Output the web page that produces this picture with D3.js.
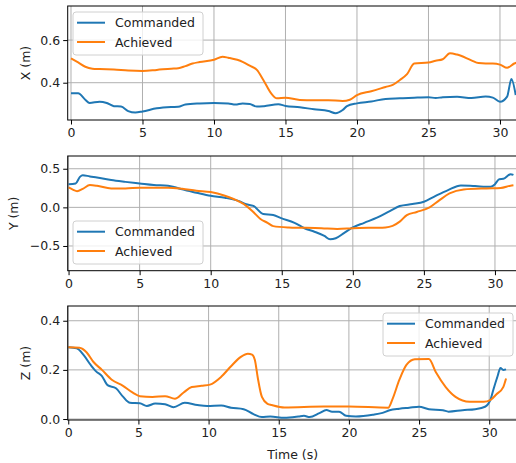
<!DOCTYPE html>
<html>
<head>
<meta charset="utf-8">
<script src="https://cdn.jsdelivr.net/npm/d3@7"></script>
<style>
  body { margin: 0; background: #fff; }
  svg { display: block; font-family: "DejaVu Sans", sans-serif; }
</style>
</head>
<body>
<svg id="chart"></svg>
<script>
// ---- data ----
let seriesNames = ["Commanded", "Achieved"]
let xTicks = [0, 5, 10, 15, 20, 25, 30]

let tXCmd = [0, 0.5, 1, 1.3, 2, 2.5, 3, 3.5, 4, 4.5, 5, 6, 7, 7.5, 8, 9, 10, 11, 11.5, 12, 12.5, 13, 13.5, 14.5, 15, 16, 17, 18, 18.5, 19, 19.3, 20, 21, 22, 23, 24, 25, 25.5, 26, 27, 28, 29, 29.5, 30, 30.5, 30.8, 31.1]
let xCmd = [0.35, 0.35, 0.32, 0.305, 0.311, 0.305, 0.29, 0.288, 0.267, 0.26, 0.265, 0.28, 0.286, 0.287, 0.298, 0.303, 0.305, 0.303, 0.298, 0.303, 0.30, 0.288, 0.29, 0.299, 0.291, 0.285, 0.275, 0.267, 0.257, 0.272, 0.29, 0.303, 0.312, 0.324, 0.327, 0.33, 0.332, 0.328, 0.332, 0.334, 0.328, 0.335, 0.33, 0.311, 0.335, 0.417, 0.342]
let tXAch = [0, 0.5, 1, 1.5, 2, 3, 4, 5, 6, 7, 7.5, 8, 8.5, 9, 10, 10.6, 11, 12, 12.5, 13, 13.45, 14, 14.4, 15, 16, 17, 18, 19, 19.5, 20, 21, 22, 22.5, 23, 23.5, 24, 25, 25.5, 26, 26.5, 27, 28, 28.5, 29, 29.5, 30, 30.5, 31, 31.2]
let xAch = [0.514, 0.495, 0.475, 0.466, 0.464, 0.462, 0.457, 0.455, 0.46, 0.466, 0.468, 0.478, 0.49, 0.497, 0.508, 0.522, 0.517, 0.498, 0.48, 0.46, 0.413, 0.35, 0.327, 0.33, 0.319, 0.318, 0.318, 0.314, 0.32, 0.342, 0.36, 0.38, 0.39, 0.413, 0.44, 0.49, 0.495, 0.503, 0.51, 0.538, 0.532, 0.505, 0.492, 0.49, 0.49, 0.485, 0.47, 0.49, 0.495]

let tYCmd = [0, 0.5, 0.8, 1, 1.5, 2, 3, 4, 5, 6, 7, 7.5, 8, 9, 10, 11, 12, 12.5, 13, 13.7, 14.4, 15, 15.9, 16.6, 17.3, 18, 18.4, 18.8, 19.4, 19.9, 20.8, 21.7, 22.6, 23.3, 24.2, 25, 25.7, 26.7, 27.6, 28.6, 29.7, 30, 30.3, 30.6, 31.1, 31.3]
let yCmd = [0.30, 0.31, 0.395, 0.417, 0.40, 0.387, 0.353, 0.33, 0.31, 0.29, 0.28, 0.26, 0.233, 0.19, 0.15, 0.124, 0.08, 0.04, 0.02, -0.087, -0.1, -0.142, -0.2, -0.27, -0.315, -0.37, -0.414, -0.4, -0.33, -0.27, -0.2, -0.134, -0.048, 0.017, 0.043, 0.073, 0.137, 0.224, 0.284, 0.275, 0.266, 0.3, 0.365, 0.37, 0.43, 0.42]
let tYAch = [0, 0.3, 0.6, 1, 1.5, 2, 3, 4, 5, 6, 7, 8, 9, 10, 11, 12, 12.5, 13, 13.5, 14, 14.4, 15.5, 17.8, 18.9, 20, 22.3, 22.8, 23.3, 23.8, 24.5, 25.4, 26.1, 26.8, 27.8, 29.4, 30.4, 31.1, 31.3]
let yAch = [0.258, 0.23, 0.21, 0.24, 0.288, 0.28, 0.245, 0.245, 0.255, 0.255, 0.255, 0.24, 0.215, 0.198, 0.15, 0.075, 0.02, -0.06, -0.15, -0.2, -0.243, -0.26, -0.27, -0.28, -0.27, -0.26, -0.24, -0.185, -0.1, -0.06, 0.0, 0.094, 0.18, 0.232, 0.245, 0.25, 0.28, 0.285]

let tZCmd = [0, 0.6, 1.1, 1.6, 2, 2.4, 2.8, 3.4, 3.9, 4.4, 5.1, 5.6, 6.2, 6.9, 7.5, 8.3, 9.2, 9.9, 10.9, 11.6, 12.5, 13.2, 13.8, 14.4, 15.4, 16.4, 16.8, 17.2, 17.9, 18.4, 18.8, 19.3, 19.8, 20.5, 21.7, 22.4, 22.9, 23.6, 24.3, 25, 25.7, 26.7, 27.1, 28.1, 29, 29.7, 30.1, 30.3, 30.6, 30.8, 31, 31.2]
let zCmd = [0.292, 0.288, 0.26, 0.22, 0.193, 0.175, 0.138, 0.125, 0.091, 0.066, 0.064, 0.053, 0.063, 0.06, 0.048, 0.066, 0.057, 0.053, 0.055, 0.046, 0.04, 0.02, 0.008, 0.01, 0.005, 0.01, 0.013, 0.008, 0.024, 0.037, 0.03, 0.03, 0.013, 0.01, 0.017, 0.025, 0.036, 0.042, 0.046, 0.05, 0.04, 0.036, 0.03, 0.036, 0.04, 0.05, 0.08, 0.12, 0.175, 0.208, 0.2, 0.202]
let tZAch = [0, 0.8, 1.3, 1.8, 2.4, 3.1, 3.9, 4.6, 5.1, 6, 6.9, 7.6, 8.2, 8.8, 9.5, 10.1, 10.9, 11.6, 12.3, 12.8, 13.1, 13.3, 13.5, 13.8, 14.2, 14.5, 15.4, 18.2, 20, 22.8, 23.1, 23.6, 24.1, 24.7, 25.7, 26.2, 26.9, 27.6, 28.6, 29.6, 30.1, 30.5, 31, 31.2]
let zAch = [0.292, 0.29, 0.272, 0.232, 0.2, 0.16, 0.135, 0.107, 0.093, 0.09, 0.093, 0.083, 0.107, 0.13, 0.135, 0.14, 0.172, 0.215, 0.253, 0.266, 0.262, 0.24, 0.17, 0.09, 0.062, 0.057, 0.047, 0.051, 0.051, 0.046, 0.08, 0.16, 0.22, 0.243, 0.244, 0.19, 0.13, 0.09, 0.07, 0.07, 0.078, 0.1, 0.13, 0.165]

let yTicksX = [0.4, 0.6]
let yTicksY = [-0.5, 0.0, 0.5]
let yTicksZ = [0.0, 0.2, 0.4]

// ---- layout ----
let width = 516
let height = 463
let colors = ["#1f77b4", "#ff7f0e"]
let fontSize = 12.5

let zip = (ts, vs) => ts.map((t, i) => [t, vs[i]])

let panels = [
  { label: "X (m)", top: 6, bottom: 120, xDom: [-0.23, 31.24], yDom: [0.225, 0.76], yTicks: yTicksX,
    labelX: 25, legend: { x: 73, y: 12 },
    series: [zip(tXCmd, xCmd), zip(tXAch, xAch)] },
  { label: "Y (m)", top: 156, bottom: 270.7, xDom: [-0.06, 31.6], yDom: [-0.82, 0.665], yTicks: yTicksY,
    labelX: 13.5, legend: { x: 73, y: 221 },
    series: [zip(tYCmd, yCmd), zip(tYAch, yAch)] },
  { label: "Z (m)", top: 306, bottom: 420, xDom: [-0.04, 32.03], yDom: [-0.004, 0.46], yTicks: yTicksZ,
    labelX: 25, legend: { x: 383, y: 313 },
    series: [zip(tZCmd, zCmd), zip(tZAch, zAch)] }
]
let left = 67.7
let right = 517.7

let svg = d3.select("#chart").attr("width", width).attr("height", height)

panels.forEach((p, pi) => {
  let xScale = d3.scaleLinear().domain(p.xDom).range([left, right])
  let yScale = d3.scaleLinear().domain(p.yDom).range([p.bottom, p.top])

  let g = svg.append("g")
  let clipId = "clip" + pi
  g.append("clipPath").attr("id", clipId)
    .append("rect").attr("x", left).attr("y", p.top).attr("width", right - left).attr("height", p.bottom - p.top)

  // grid
  g.selectAll(".gx").data(xTicks).enter().append("line")
    .attr("x1", d => xScale(d)).attr("x2", d => xScale(d))
    .attr("y1", p.top).attr("y2", p.bottom)
    .attr("stroke", "#b0b0b0").attr("stroke-width", 1)
  g.selectAll(".gy").data(p.yTicks).enter().append("line")
    .attr("x1", left).attr("x2", right)
    .attr("y1", d => yScale(d)).attr("y2", d => yScale(d))
    .attr("stroke", "#b0b0b0").attr("stroke-width", 1)

  // lines
  let line = d3.line().x(d => xScale(d[0])).y(d => yScale(d[1])).curve(d3.curveMonotoneX)
  p.series.forEach((s, si) => {
    g.append("path").datum(s)
      .attr("clip-path", "url(#" + clipId + ")")
      .attr("fill", "none")
      .attr("stroke", colors[si])
      .attr("stroke-width", 2)
      .attr("stroke-linejoin", "round")
      .attr("d", line)
  })

  // axes
  let xAxis = d3.axisBottom(xScale).tickValues(xTicks).tickSize(4.5).tickPadding(4).tickFormat(d3.format("d"))
  let yAxis = d3.axisLeft(yScale).tickValues(p.yTicks).tickSize(4.5).tickPadding(3)
    .tickFormat(d => d3.format(".1f")(d).replace("-", "\u2212"))

  let gx = g.append("g").attr("transform", "translate(0," + p.bottom + ")").call(xAxis)
  let gy = g.append("g").attr("transform", "translate(" + left + ",0)").call(yAxis)
  ;[gx, gy].forEach(a => {
    a.select(".domain").remove()
    a.selectAll("line").attr("stroke", "#000").attr("stroke-width", 1)
    a.selectAll("text").attr("fill", "#222").style("font-size", fontSize + "px")
      .style("font-family", "DejaVu Sans")
  })

  // spines
  g.append("rect").attr("x", left).attr("y", p.top).attr("width", right - left).attr("height", p.bottom - p.top)
    .attr("fill", "none").attr("stroke", "#000").attr("stroke-width", 1)

  // y label
  g.append("text")
    .attr("transform", "translate(" + p.labelX + "," + ((p.top + p.bottom) / 2) + ") rotate(-90)")
    .attr("text-anchor", "middle").attr("dominant-baseline", "central")
    .attr("fill", "#222").style("font-size", fontSize + "px")
    .text(p.label)

  // legend
  let lg = g.append("g").attr("transform", "translate(" + p.legend.x + "," + p.legend.y + ")")
  lg.append("rect").attr("width", 130).attr("height", 43).attr("rx", 3)
    .attr("fill", "rgba(255,255,255,0.8)").attr("stroke", "#d0d0d0").attr("stroke-width", 1)
  seriesNames.forEach((name, i) => {
    let cy = 10.7 + i * 19.3
    lg.append("line").attr("x1", 4).attr("x2", 32).attr("y1", cy).attr("y2", cy)
      .attr("stroke", colors[i]).attr("stroke-width", 2)
    lg.append("text").attr("x", 42).attr("y", cy).attr("dominant-baseline", "central")
      .attr("fill", "#222").style("font-size", fontSize + "px").text(name)
  })
})

// x label on bottom panel
svg.append("text")
  .attr("x", (left + right) / 2).attr("y", 454)
  .attr("text-anchor", "middle").attr("dominant-baseline", "central")
  .attr("fill", "#222").style("font-size", fontSize + "px")
  .text("Time (s)")
</script>
</body>
</html>
